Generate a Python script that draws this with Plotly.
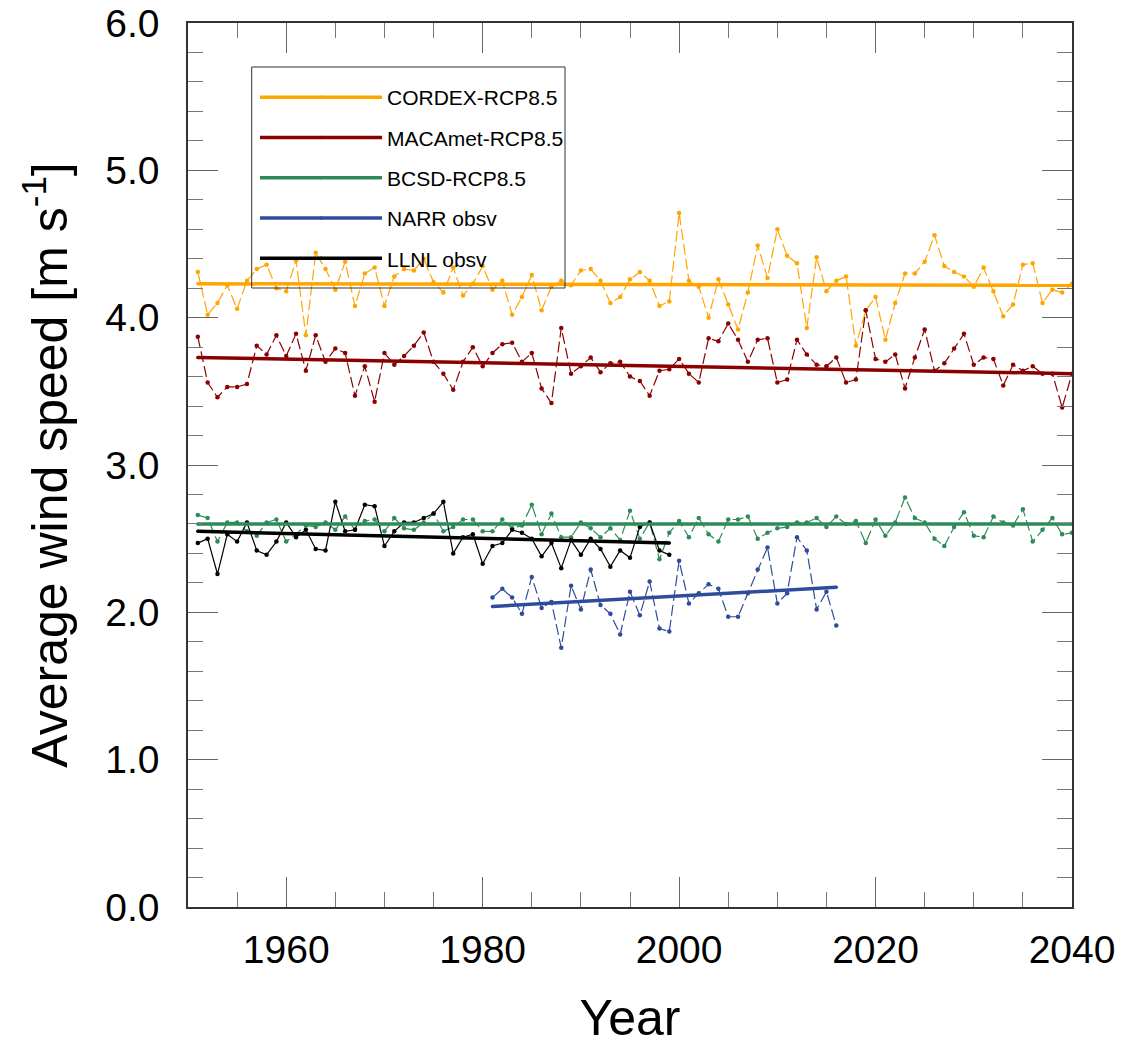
import numpy as np
import plotly.graph_objects as go

# ---------------- data ----------------
years_model = list(range(1951, 2041))
years_llnl = list(range(1951, 2000))
years_narr = list(range(1981, 2017))

cordex = [4.31, 4.02, 4.10, 4.22, 4.06, 4.25, 4.33, 4.36, 4.20, 4.18,
          4.39, 3.88, 4.44, 4.33, 4.19, 4.38, 4.08, 4.30, 4.34, 4.08,
          4.28, 4.33, 4.32, 4.40, 4.24, 4.17, 4.34, 4.15, 4.23, 4.35,
          4.19, 4.25, 4.02, 4.14, 4.29, 4.05, 4.21, 4.25, 4.22, 4.32,
          4.33, 4.25, 4.10, 4.14, 4.26, 4.31, 4.25, 4.08, 4.11, 4.71,
          4.25, 4.21, 4.00, 4.26, 4.09, 3.92, 4.17, 4.49, 4.27, 4.60,
          4.42, 4.37, 3.93, 4.41, 4.18, 4.25, 4.28, 3.81, 4.05, 4.14,
          3.85, 4.10, 4.30, 4.30, 4.38, 4.56, 4.35, 4.31, 4.28, 4.21,
          4.34, 4.18, 4.01, 4.09, 4.36, 4.37, 4.10, 4.19, 4.17, 4.23]

macamet = [3.87, 3.56, 3.46, 3.53, 3.53, 3.55, 3.81, 3.75, 3.88, 3.74,
           3.89, 3.64, 3.88, 3.70, 3.79, 3.76, 3.47, 3.67, 3.43, 3.76,
           3.68, 3.74, 3.81, 3.90, 3.70, 3.62, 3.51, 3.70, 3.80, 3.67,
           3.76, 3.82, 3.83, 3.70, 3.76, 3.52, 3.42, 3.93, 3.62, 3.67,
           3.73, 3.63, 3.69, 3.70, 3.60, 3.57, 3.47, 3.64, 3.65, 3.72,
           3.62, 3.56, 3.86, 3.84, 3.96, 3.85, 3.70, 3.85, 3.86, 3.56,
           3.58, 3.85, 3.75, 3.68, 3.67, 3.73, 3.56, 3.58, 4.05, 3.72,
           3.70, 3.75, 3.52, 3.73, 3.92, 3.64, 3.69, 3.79, 3.89, 3.68,
           3.73, 3.72, 3.54, 3.68, 3.64, 3.67, 3.62, 3.62, 3.39, 3.62]

bcsd = [2.66, 2.64, 2.48, 2.61, 2.61, 2.55, 2.52, 2.61, 2.63, 2.48,
        2.53, 2.59, 2.58, 2.61, 2.56, 2.65, 2.56, 2.62, 2.63, 2.55,
        2.64, 2.57, 2.56, 2.61, 2.67, 2.55, 2.58, 2.63, 2.63, 2.55,
        2.55, 2.63, 2.57, 2.59, 2.73, 2.53, 2.67, 2.51, 2.51, 2.61,
        2.57, 2.51, 2.57, 2.49, 2.69, 2.50, 2.61, 2.36, 2.54, 2.62,
        2.51, 2.64, 2.53, 2.48, 2.63, 2.63, 2.65, 2.50, 2.54, 2.57,
        2.58, 2.61, 2.61, 2.64, 2.58, 2.65, 2.60, 2.62, 2.47, 2.63,
        2.52, 2.61, 2.78, 2.64, 2.61, 2.50, 2.45, 2.58, 2.68, 2.52,
        2.51, 2.65, 2.61, 2.59, 2.70, 2.48, 2.56, 2.64, 2.53, 2.54]

llnl = [2.47, 2.50, 2.26, 2.53, 2.48, 2.61, 2.42, 2.39, 2.48, 2.61,
        2.51, 2.56, 2.43, 2.42, 2.75, 2.55, 2.56, 2.73, 2.72, 2.45,
        2.55, 2.61, 2.61, 2.64, 2.67, 2.75, 2.40, 2.51, 2.53, 2.33,
        2.45, 2.47, 2.56, 2.54, 2.50, 2.38, 2.47, 2.30, 2.49, 2.39,
        2.50, 2.43, 2.31, 2.42, 2.37, 2.58, 2.61, 2.42, 2.39]

narr = [2.10, 2.16, 2.10, 1.99, 2.24, 2.03, 2.07, 1.76, 2.18, 2.02,
        2.29, 2.05, 1.99, 1.85, 2.14, 1.98, 2.21, 1.89, 1.87, 2.35,
        2.06, 2.13, 2.19, 2.16, 1.97, 1.97, 2.13, 2.29, 2.44, 2.06,
        2.13, 2.51, 2.42, 2.02, 2.14, 1.91]

series_names = ["CORDEX-RCP8.5", "MACAmet-RCP8.5", "BCSD-RCP8.5", "NARR obsv", "LLNL obsv"]

# trend-line values at the first and last year of each series
trend_start = [4.23, 3.73, 2.60, 2.04, 2.55]
trend_end = [4.22, 3.62, 2.60, 2.17, 2.47]

x_ticks = [1960, 1980, 2000, 2020, 2040]
y_ticks = [0, 1, 2, 3, 4, 5, 6]

# ---------------- styles ----------------
colors = ["#FFA500", "#8B0000", "#2E8B57", "#2F4B9C", "#000000"]
dashes = ["11px,4px", "11px,4px", "11px,4px", "11px,4px", "solid"]
xs = [years_model, years_model, years_model, years_narr, years_llnl]
ys = [cordex, macamet, bcsd, narr, llnl]

FONT = "Liberation Sans, Helvetica, Arial, sans-serif"

fig = go.Figure()

# raw yearly series
for name, x, y, c, d in zip(series_names, xs, ys, colors, dashes):
    fig.add_trace(go.Scatter(
        x=x, y=y, mode="lines+markers", showlegend=False,
        line=dict(color=c, width=1.2, dash=d),
        marker=dict(color=c, size=4.5),
        hoverinfo="x+y", name=name))

# trend lines
for i, (name, x, c) in enumerate(zip(series_names, xs, colors)):
    fig.add_trace(go.Scatter(
        x=[x[0], x[-1]], y=[trend_start[i], trend_end[i]],
        mode="lines+markers", name=name, legendgroup=f"g{i}",
        line=dict(color=c, width=3.5),
        marker=dict(color=c, size=3.5)))

axis_common = dict(
    showline=True, linecolor="#333333", linewidth=1.5, mirror="allticks",
    ticks="inside", ticklen=30, tickwidth=1.2, tickcolor="#666666",
    showgrid=False, zeroline=False,
    tickfont=dict(size=39, family=FONT, color="black"),
)

fig.update_xaxes(
    range=[1950, 2040], tickmode="array", tickvals=x_ticks,
    ticktext=[str(v) for v in x_ticks], ticklabelstandoff=7,
    minor=dict(dtick=5, tick0=1950, ticks="inside", ticklen=15,
               tickwidth=1.2, tickcolor="#777777", showgrid=False),
    title=dict(text="Year", font=dict(size=50, family=FONT, color="black"), standoff=40),
    **axis_common)

fig.update_yaxes(
    range=[0, 6], tickmode="array", tickvals=y_ticks,
    ticktext=[f"{v:.1f}" for v in y_ticks], ticklabelstandoff=19,
    minor=dict(dtick=0.2, tick0=0, ticks="inside", ticklen=15,
               tickwidth=1.2, tickcolor="#777777", showgrid=False),
    title=dict(text="Average wind speed [m s<sup>-1</sup>]",
               font=dict(size=50, family=FONT, color="black"), standoff=22),
    **axis_common)

# plot-area pixel geometry (for placing the legend box)
L, R, T, B = 188, 50, 23, 139
W, H = 1122, 1046
pw, ph = W - L - R, H - T - B

def px(xp):
    return (xp - L) / pw

def py(yp):
    return (H - B - yp) / ph

fig.update_layout(
    width=W, height=H,
    margin=dict(l=L, r=R, t=T, b=B, autoexpand=False),
    plot_bgcolor="white", paper_bgcolor="white",
    font=dict(family=FONT, color="black"),
    showlegend=True,
    legend=dict(
        x=px(255), y=py(77),
        xanchor="left", yanchor="top",
        borderwidth=0, bgcolor="rgba(0,0,0,0)",
        font=dict(size=21, family=FONT, color="black"),
        itemwidth=122, tracegroupgap=10, traceorder="grouped",
    ),
    shapes=[dict(type="rect", xref="paper", yref="paper",
                 x0=px(251.7), x1=px(565), y0=py(288), y1=py(67),
                 line=dict(color="#333333", width=1), fillcolor="rgba(0,0,0,0)",
                 layer="above")],
)

fig.write_html("out.html", config={"displayModeBar": False},
               post_script="document.body.style.margin='0px';document.body.style.overflow='hidden';")
